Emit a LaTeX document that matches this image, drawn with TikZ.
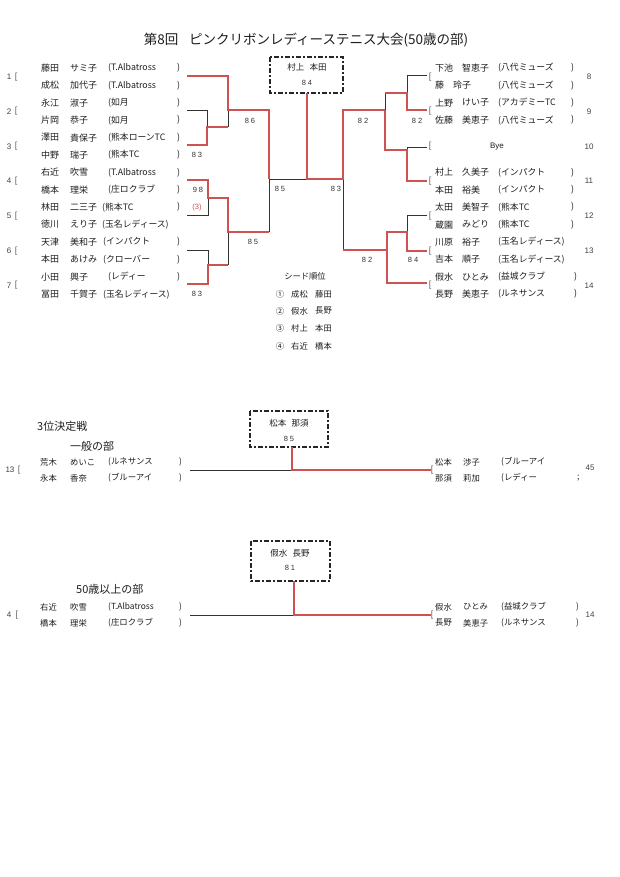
\documentclass[tikz,border=0pt]{standalone}
\usepackage{fontspec}
\setmainfont{Noto Sans CJK JP}
\newfontfamily\latinf{Liberation Sans}
\definecolor{redl}{RGB}{205,82,82}
\definecolor{ink}{RGB}{30,30,30}
\begin{document}
\begin{tikzpicture}[x=1pt,y=-1pt,
  tl/.style={draw=black!80,line width=0.7pt},
  rl/.style={draw=redl,line width=1.8pt,line join=miter},
  boxd/.style={draw=black!85,line width=1.3pt,dash pattern=on 5pt off 2pt on 2pt off 2pt},
  nm/.style={anchor=west,inner sep=0,text=ink,font=\fontsize{9}{9}\selectfont},
  tm/.style={anchor=west,inner sep=0,text=ink,font=\fontsize{8.8}{8.8}\selectfont},
  sm/.style={anchor=west,inner sep=0,text=ink,font=\fontsize{8.3}{8.3}\selectfont},
  tb/.style={anchor=west,inner sep=0,text=ink,font=\fontsize{8.4}{8.4}\selectfont},
  sc/.style={inner sep=0,text=black!80,font=\fontsize{7.5}{7.5}\latinf},
  pn/.style={inner sep=0,text=black!75,font=\fontsize{8}{8}\latinf},
  brk/.style={inner sep=0,text=black!60,font=\fontsize{9}{9}\latinf},
  hd/.style={anchor=west,inner sep=0,text=ink,font=\fontsize{11}{11}\selectfont}]
\useasboundingbox[fill=white] (0,0) rectangle (620,877);

% title
\node[inner sep=0,text=ink,font=\fontsize{13.5}{13.5}\selectfont] (title) at (306,40) {第8回\hspace{0.8em}ピンクリボンレディーステニス大会(50歳の部)};

% ---------- left names ----------
\newcommand\lrow[5]{\node[nm] at (41,#1) {#2};\node[nm] at (70,#1) {#3};\node[tm] at (#5,#1) {#4};}
\lrow{68.0}{藤田}{サミ子}{(T.Albatross}{108}
\lrow{85.4}{成松}{加代子}{(T.Albatross}{108}
\lrow{102.8}{永江}{淑子}{(如月}{108}
\lrow{120.2}{片岡}{恭子}{(如月}{108}
\lrow{137.6}{澤田}{貴保子}{(熊本ローンTC}{108}
\lrow{155.0}{中野}{瑞子}{(熊本TC}{108}
\lrow{172.4}{右近}{吹雪}{(T.Albatross}{108}
\lrow{189.8}{橋本}{理栄}{(庄ロクラブ}{108}
\lrow{207.2}{林田}{二三子}{(熊本TC}{102}
\lrow{224.6}{徳川}{えり子}{(玉名レディース)}{102}
\lrow{242.0}{天津}{美和子}{(インパクト}{103}
\lrow{259.4}{本田}{あけみ}{(クローバー}{103}
\lrow{276.8}{小田}{興子}{(レディー}{108}
\lrow{294.2}{冨田}{千賀子}{(玉名レディース)}{103}
\foreach \yy in {68.0,85.4,102.8,120.2,137.6,155.0,172.4,189.8,207.2,242.0,259.4,276.8}
  \node[tm] at (177,\yy) {)};
\foreach \n/\yy in {1/76.7,2/111.5,3/146.3,4/181.1,5/215.9,6/250.7,7/285.5}{
  \node[pn] at (9,\yy) {\n};
  \node[brk] at (16,\yy) {[};}

% ---------- right names ----------
\newcommand\rrow[5]{\node[nm] at (435,#1) {#2};\node[nm] at (#5,#1) {#3};\node[tm] at (498,#1) {#4};}
\rrow{68.0}{下池}{智恵子}{(八代ミューズ}{462}
\rrow{85.4}{藤}{玲子}{(八代ミューズ}{453}
\rrow{102.8}{上野}{けい子}{(アカデミーTC}{462}
\rrow{120.2}{佐藤}{美恵子}{(八代ミューズ}{462}
\rrow{172.4}{村上}{久美子}{(インパクト}{462}
\rrow{189.8}{本田}{裕美}{(インパクト}{462}
\rrow{207.2}{太田}{美智子}{(熊本TC}{462}
\rrow{224.6}{蔵園}{みどり}{(熊本TC}{462}
\rrow{242.0}{川原}{裕子}{(玉名レディース)}{462}
\rrow{259.4}{吉本}{順子}{(玉名レディース)}{462}
\rrow{276.8}{假水}{ひとみ}{(益城クラブ}{462}
\rrow{294.2}{長野}{美恵子}{(ルネサンス}{462}
\node[inner sep=0,text=ink,font=\fontsize{8}{8}\latinf] (bye) at (497,146.7) {Bye};
\foreach \yy in {68.0,85.4,102.8,120.2,172.4,189.8,207.2,224.6}
  \node[tm] at (571,\yy) {)};
\foreach \yy in {276.8,294.2}
  \node[tm] at (574,\yy) {)};
\foreach \n/\yy in {8/76.7,9/111.5,10/146.3,11/181.1,12/215.9,13/250.7,14/285.5}{
  \node[pn] at (589,\yy) {\n};
  \node[brk] at (430,\yy) {[};}

% ---------- bracket lines ----------
% left
\draw[tl] (228,110)--(228,127);
\draw[tl] (187,110)--(207,110)--(207,127);
\draw[tl] (187,215)--(208,215)--(208,198);
\draw[tl] (228,232)--(228,265);
\draw[tl] (187,250)--(208,250)--(208,265);
\draw[tl] (269,179)--(269,232);
\draw[rl] (187,76)--(228,76)--(228,110)--(269,110)--(269,179);
\draw[rl] (187,145)--(207,145)--(207,127)--(228,127);
\draw[rl] (187,180)--(208,180)--(208,198)--(228,198)--(228,232)--(269,232);
\draw[rl] (187,284)--(208,284)--(208,265)--(228,265);
% centre
\draw[tl] (269,179)--(307,179);
\draw[tl] (343,179)--(343,250);
\draw[boxd] (270,57) rectangle (343,93);
\node[inner sep=0,text=ink,font=\fontsize{8.5}{8.5}\selectfont] (champ) at (307,67) {村上\hspace{0.6em}本田};
\node[sc] (s84) at (307,83) {8\hspace{2pt}4};
\draw[rl] (307,93)--(307,179)--(343,179)--(343,110)--(385,110);
% right top
\draw[tl] (385,93)--(385,110);
\draw[tl] (427,75)--(407,75)--(407,93);
\draw[tl] (427,147)--(407,147)--(407,150);
\draw[rl] (427,110)--(407,110)--(407,93)--(385,93);
\draw[rl] (385,110)--(385,150)--(407,150)--(407,181)--(427,181);
% right bottom
\draw[tl] (427,215)--(407,215)--(407,232);
\draw[rl] (427,251)--(407,251)--(407,232)--(387,232)--(387,250);
\draw[rl] (343,250)--(387,250)--(387,283)--(427,283);

% scores
\node[sc] at (250,121) {8\hspace{2pt}6};
\node[sc] at (197,155) {8\hspace{2pt}3};
\node[sc] at (198,190) {9\hspace{2pt}8};
\node[sc,text=redl] at (197,208) {(3)};
\node[sc] at (253,242) {8\hspace{2pt}5};
\node[sc] at (197,294) {8\hspace{2pt}3};
\node[sc] at (280,189) {8\hspace{2pt}5};
\node[sc] at (336,189) {8\hspace{2pt}3};
\node[sc] at (363,121) {8\hspace{2pt}2};
\node[sc] at (417,121) {8\hspace{2pt}2};
\node[sc] at (367,260) {8\hspace{2pt}2};
\node[sc] at (413,260) {8\hspace{2pt}4};

% seeds
\node[inner sep=0,text=ink,font=\fontsize{8.3}{8.3}\selectfont] (seedh) at (305,276) {シード順位};
\foreach \c/\a/\b/\yy in {①/成松/藤田/294,②/假水/長野/311,③/村上/本田/328,④/右近/橋本/346}{
  \node[inner sep=0,text=ink,font=\fontsize{8.3}{8.3}\selectfont] at (280,\yy) {\c};
  \node[sm] at (291,\yy) {\a};
  \node[sm] at (315,\yy) {\b};}

% ---------- 3rd place ----------
\node[hd] (h3) at (37,426) {3位決定戦};
\node[hd] (h3b) at (70,446) {一般の部};
\draw[boxd] (250,411) rectangle (328,447);
\node[inner sep=0,text=ink,font=\fontsize{8.5}{8.5}\selectfont] at (289,423) {松本\hspace{0.6em}那須};
\node[sc] at (289,439) {8\hspace{2pt}5};
\draw[tl] (190,470)--(292,470);
\draw[rl] (292,447)--(292,470)--(431,470);
\node[pn] at (10,470) {13};
\node[brk] at (19,470) {[};
\node[sm] at (40,462) {荒木};\node[sm] at (70,462) {めいこ};\node[tb] at (108,462) {(ルネサンス};\node[tb] at (179,462) {)};
\node[sm] at (40,478) {永本};\node[sm] at (70,478) {香奈};\node[tb] at (108,478) {(ブルーアイ};\node[tb] at (179,478) {)};
\node[brk] at (432,470) {[};
\node[sm] at (435,462) {松本};\node[sm] at (463,462) {渉子};\node[tb] at (501,462) {(ブルーアイ};
\node[sm] at (435,478) {那須};\node[sm] at (463,478) {莉加};\node[tb] at (501,478) {(レディー};
\node[tb] at (577,478) {;};
\node[pn] at (590,468) {45};

% ---------- 50+ ----------
\draw[boxd] (251,541) rectangle (330,581);
\node[inner sep=0,text=ink,font=\fontsize{8.5}{8.5}\selectfont] at (290,553) {假水\hspace{0.6em}長野};
\node[sc] at (290,568) {8\hspace{2pt}1};
\node[hd] (h50) at (76,589) {50歳以上の部};
\draw[tl] (190,615)--(294,615);
\draw[rl] (294,581)--(294,615)--(431,615);
\node[pn] at (9,615) {4};
\node[brk] at (17,615) {[};
\node[sm] at (40,607) {右近};\node[sm] at (70,607) {吹雪};\node[tb] at (108,607) {(T.Albatross};\node[tb] at (179,607) {)};
\node[sm] at (40,623) {橋本};\node[sm] at (70,623) {理栄};\node[tb] at (108,623) {(庄ロクラブ};\node[tb] at (179,623) {)};
\node[brk] at (432,615) {[};
\node[sm] at (435,607) {假水};\node[sm] at (463,607) {ひとみ};\node[tb] at (501,607) {(益城クラブ};\node[tb] at (576,607) {)};
\node[sm] at (435,623) {長野};\node[sm] at (463,623) {美恵子};\node[tb] at (501,623) {(ルネサンス};\node[tb] at (576,623) {)};
\node[pn] at (590,615) {14};
\end{tikzpicture}
\end{document}
